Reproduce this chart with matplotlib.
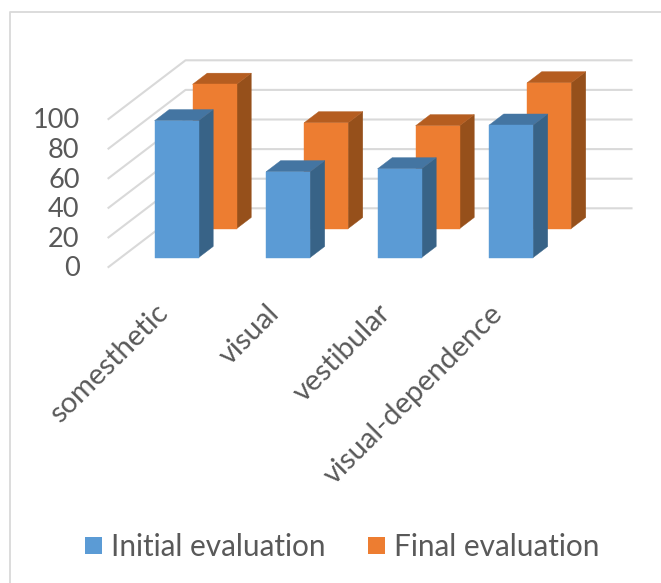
import matplotlib
matplotlib.use("Agg")
import matplotlib.pyplot as plt
from matplotlib.patches import Polygon, Rectangle

categories = ["somesthetic", "visual", "vestibular", "visual-dependence"]
initial_eval = [92.5, 58, 60, 89.5]
final_eval = [97.5, 71.5, 69.5, 98.5]
y_ticks = [0, 20, 40, 60, 80, 100]

plt.rcParams["font.family"] = ["Lato", "DejaVu Sans"]

# figure is 661x583, axes runs in pixel units with y pointing down
fig = plt.figure(figsize=(6.61, 5.83), dpi=100)
ax = fig.add_axes([0, 0, 1, 1])
ax.set_xlim(0, 661)
ax.set_ylim(583, 0)
ax.axis("off")

# oblique projection of the 3d plot box
X0, Y0 = 108.5, 267
SLOT = 111.5
UNIT = 1.48
DEPTH_X, DEPTH_Y = 77, -58.7
BAR_W = 44 / SLOT
BAR_D = 0.19


def project(cat, val, depth):
    return (X0 + SLOT * cat + DEPTH_X * depth,
            Y0 - UNIT * val + DEPTH_Y * depth)


def draw_bar(i, val, depth, front, top, side, z):
    x1 = i + 0.5 - BAR_W / 2
    x2 = i + 0.5 + BAR_W / 2
    d1, d2 = depth, depth + BAR_D
    front_pts = [project(x1, 0, d1), project(x2, 0, d1), project(x2, val, d1), project(x1, val, d1)]
    side_pts = [project(x2, 0, d1), project(x2, 0, d2), project(x2, val, d2), project(x2, val, d1)]
    top_pts = [project(x1, val, d1), project(x2, val, d1), project(x2, val, d2), project(x1, val, d2)]
    for pts, c in [(side_pts, side), (top_pts, top), (front_pts, front)]:
        ax.add_patch(Polygon(pts, closed=True, facecolor=c, edgecolor=c, lw=0.3, zorder=z))


# chart border
ax.plot([9.5, 9.5, 661], [583, 11.5, 11.5], color="#D9D9D9", lw=1.3, zorder=1)

# gridlines on side wall and back wall
n_cat = len(categories)
for t in y_ticks:
    pts = [project(0, t, 0), project(0, t, 1), project(n_cat, t, 1)]
    ax.plot([p[0] for p in pts], [p[1] for p in pts], color="#D9D9D9", lw=1.5, zorder=2)
    ax.text(79.5, project(0, t, 0)[1] - 0.5, str(t), ha="right", va="center_baseline",
            fontsize=19.5, color="#595959")

# back row first so the front row covers it
for i, v in enumerate(final_eval):
    draw_bar(i, v, 0.654, "#ED7D31", "#B55D20", "#96501B", 3)
for i, v in enumerate(initial_eval):
    draw_bar(i, v, 0.16, "#5B9BD5", "#4475A2", "#386387", 4)

# category labels
for i, name in enumerate(categories):
    ax.text(X0 + SLOT * (i + 0.5) - 9.5, 300, name, rotation=45, rotation_mode="anchor",
            ha="right", va="top", fontsize=21, color="#595959")

# legend
ax.add_patch(Rectangle((85, 537), 17, 17, facecolor="#5B9BD5", edgecolor="none"))
ax.text(111, 544.5, "Initial evaluation", ha="left", va="center_baseline", fontsize=21.4, color="#595959")
ax.add_patch(Rectangle((368, 537), 17, 17, facecolor="#ED7D31", edgecolor="none"))
ax.text(394, 544.5, "Final evaluation", ha="left", va="center_baseline", fontsize=21.4, color="#595959")

fig.savefig("out.png", dpi=100)
plt.close()
